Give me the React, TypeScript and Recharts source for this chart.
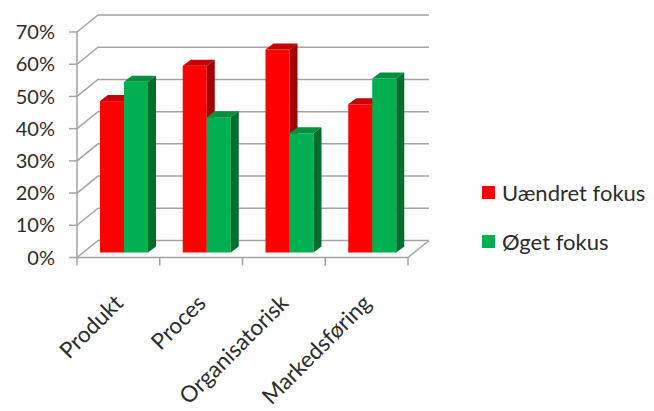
import { Bar, BarChart, CartesianGrid, Legend, XAxis, YAxis } from "recharts"

const categories = ["Produkt", "Proces", "Organisatorisk", "Markedsføring"]
const unchanged = [47, 58, 63, 46]
const increased = [53, 42, 37, 54]
const yTicks = [0, 10, 20, 30, 40, 50, 60, 70]

const data = categories.map((name, i) => ({
  name,
  unchanged: unchanged[i],
  increased: increased[i],
}))

const FONT = "Lato, 'Open Sans', sans-serif"
const GRID = "#a3a3a3"
const TEXT = "#2b2b2b"
// depth of the walls / floor and of the bars
const WALL_DX = 21
const WALL_DY = 17
const BAR_DX = 8
const BAR_DY = 6
const BAR_SHIFT_X = 6
const BAR_SHIFT_Y = -5

function makeBar(front: string, top: string, side: string) {
  return (props: any) => {
    const { x, y, width, height } = props
    if (height == null || height <= 0) return <g />
    const fx = x + BAR_SHIFT_X
    const fy = y + BAR_SHIFT_Y
    return (
      <g>
        <rect x={fx} y={fy} width={width} height={height} fill={front} />
        <polygon
          points={`${fx},${fy} ${fx + BAR_DX},${fy - BAR_DY} ${fx + width + BAR_DX},${fy - BAR_DY} ${fx + width},${fy}`}
          fill={top}
        />
        <polygon
          points={`${fx + width},${fy} ${fx + width + BAR_DX},${fy - BAR_DY} ${fx + width + BAR_DX},${fy + height - BAR_DY} ${fx + width},${fy + height}`}
          fill={side}
        />
      </g>
    )
  }
}

const RedBar = makeBar("#ff0000", "#c80000", "#a00000")
const GreenBar = makeBar("#00b050", "#009040", "#006f2e")

function gridLine(props: any) {
  const { x1, x2, y1, index, y, height } = props
  const isFloor = Math.abs(y1 - (y + height)) < 1
  const bx1 = x1 + WALL_DX
  const bx2 = x2 + WALL_DX
  const by = y1 - WALL_DY
  return (
    <g key={`grid-${index}`}>
      <polyline
        points={`${x1},${y1} ${bx1},${by} ${bx2},${by}`}
        fill="none"
        stroke={GRID}
        strokeWidth={1.5}
      />
      {isFloor && <line x1={x2} y1={y1} x2={bx2} y2={by} stroke={GRID} strokeWidth={1.5} />}
    </g>
  )
}

function CategoryTick(props: any) {
  const { x, y, payload, index, visibleTicksCount } = props
  const half = payload?.offset ?? 41
  const axisY = y - 8
  const tx = x + 6
  const ty = axisY + 47
  return (
    <g>
      <line x1={x - half} y1={axisY} x2={x - half} y2={axisY + 8} stroke={GRID} strokeWidth={1.5} />
      {index === visibleTicksCount - 1 && (
        <line x1={x + half} y1={axisY} x2={x + half} y2={axisY + 8} stroke={GRID} strokeWidth={1.5} />
      )}
      <text
        x={tx}
        y={ty}
        textAnchor="end"
        transform={`rotate(-45, ${tx}, ${ty})`}
        fill={TEXT}
        fontSize={22.5}
        fontFamily={FONT}
      >
        {payload.value}
      </text>
    </g>
  )
}

function LegendContent(props: any) {
  const { payload } = props
  return (
    <div style={{ fontFamily: FONT, fontSize: 22, color: TEXT }}>
      {(payload || []).map((p: any) => (
        <div key={p.value} style={{ display: "flex", alignItems: "center", height: 24, marginBottom: 25 }}>
          <span style={{ width: 13, height: 13, background: p.color, marginRight: 7, display: "inline-block" }} />
          <span>{p.value}</span>
        </div>
      ))}
    </div>
  )
}

export default function App() {
  return (
    <div style={{ position: "absolute", left: 0, top: 0, background: "#fff" }}>
      <BarChart
        width={654}
        height={411}
        data={data}
        margin={{ top: 32, right: 246, bottom: 0, left: 0 }}
        barGap={0}
        barSize={24}
      >
        <CartesianGrid vertical={false} horizontal={gridLine} />
        <YAxis
          width={77}
          domain={[0, 70]}
          ticks={yTicks}
          tickFormatter={(v) => `${v}%`}
          axisLine={{ stroke: GRID, strokeWidth: 1.5 }}
          tickLine={{ stroke: GRID, strokeWidth: 1.5 }}
          tickSize={8}
          tickMargin={14}
          tick={{ fill: TEXT, fontSize: 20, fontFamily: FONT }}
          interval={0}
        />
        <XAxis
          dataKey="name"
          height={153.5}
          axisLine={{ stroke: GRID, strokeWidth: 1.5 }}
          tickLine={false}
          tickSize={8}
          tickMargin={0}
          interval={0}
          tick={<CategoryTick />}
        />
        <Legend
          layout="vertical"
          align="center"
          verticalAlign="middle"
          wrapperStyle={{ left: 482, top: 180, width: 172 }}
          content={<LegendContent />}
        />
        <Bar dataKey="unchanged" name="Uændret fokus" fill="#ff0000" shape={RedBar} isAnimationActive={false} />
        <Bar dataKey="increased" name="Øget fokus" fill="#00b050" shape={GreenBar} isAnimationActive={false} />
      </BarChart>
    </div>
  )
}
